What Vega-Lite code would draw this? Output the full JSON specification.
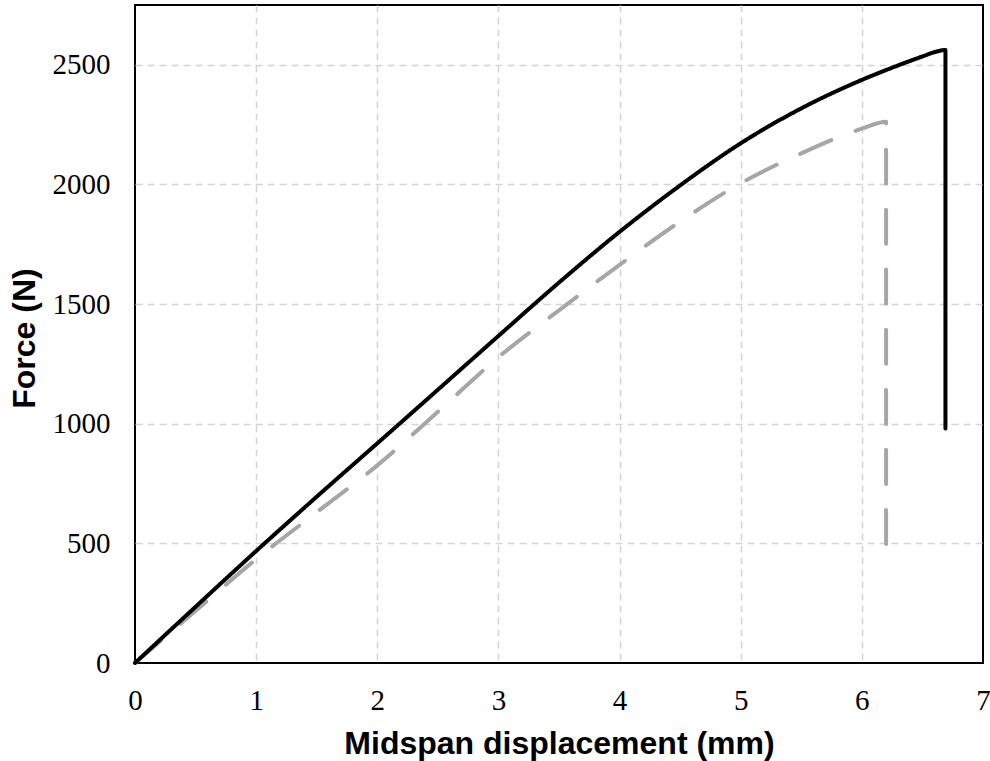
{
  "$schema": "https://vega.github.io/schema/vega-lite/v6.json",
  "width": 848,
  "height": 658,
  "autosize": "none",
  "padding": {"left": 135, "top": 5, "right": 7, "bottom": 98},
  "background": "white",
  "config": {
    "view": {"stroke": "#000000", "strokeWidth": 2},
    "axis": {
      "domain": false,
      "ticks": false,
      "grid": true,
      "gridDash": [7, 5],
      "gridWidth": 1.5,
      "labelFont": "Liberation Serif",
      "labelFontSize": 29,
      "labelColor": "#000000",
      "titleFont": "Liberation Sans",
      "titleFontSize": 32,
      "titleFontWeight": "bold",
      "titleColor": "#000000"
    }
  },
  "data": {
    "values": [
      {"s": "A", "i": 0, "x": 0, "y": 0},
      {"s": "A", "i": 1, "x": 0.5, "y": 218},
      {"s": "A", "i": 2, "x": 1, "y": 434},
      {"s": "A", "i": 3, "x": 1.5, "y": 630},
      {"s": "A", "i": 4, "x": 2, "y": 826},
      {"s": "A", "i": 5, "x": 2.5, "y": 1050},
      {"s": "A", "i": 6, "x": 3, "y": 1278},
      {"s": "A", "i": 7, "x": 3.5, "y": 1474},
      {"s": "A", "i": 8, "x": 4, "y": 1664},
      {"s": "A", "i": 9, "x": 4.5, "y": 1845},
      {"s": "A", "i": 10, "x": 5, "y": 2005},
      {"s": "A", "i": 11, "x": 5.5, "y": 2130},
      {"s": "A", "i": 12, "x": 6, "y": 2233},
      {"s": "A", "i": 13, "x": 6.2, "y": 2262},
      {"s": "A", "i": 14, "x": 6.2, "y": 482},
      {"s": "B", "i": 0, "x": 0, "y": 0},
      {"s": "B", "i": 1, "x": 0.5, "y": 235},
      {"s": "B", "i": 2, "x": 1, "y": 468},
      {"s": "B", "i": 3, "x": 1.5, "y": 695},
      {"s": "B", "i": 4, "x": 2, "y": 918},
      {"s": "B", "i": 5, "x": 2.5, "y": 1142},
      {"s": "B", "i": 6, "x": 3, "y": 1367},
      {"s": "B", "i": 7, "x": 3.5, "y": 1590},
      {"s": "B", "i": 8, "x": 4, "y": 1802},
      {"s": "B", "i": 9, "x": 4.5, "y": 1996},
      {"s": "B", "i": 10, "x": 5, "y": 2172},
      {"s": "B", "i": 11, "x": 5.5, "y": 2318},
      {"s": "B", "i": 12, "x": 6, "y": 2437},
      {"s": "B", "i": 13, "x": 6.25, "y": 2488},
      {"s": "B", "i": 14, "x": 6.5, "y": 2535},
      {"s": "B", "i": 15, "x": 6.6, "y": 2553},
      {"s": "B", "i": 16, "x": 6.69, "y": 2562},
      {"s": "B", "i": 17, "x": 6.69, "y": 980}
    ]
  },
  "mark": {"type": "line", "strokeWidth": 4, "strokeCap": "round", "strokeJoin": "round", "interpolate": "monotone"},
  "encoding": {
    "x": {
      "field": "x", "type": "quantitative",
      "scale": {"domain": [0, 7], "nice": false, "zero": false},
      "axis": {
        "values": [0, 1, 2, 3, 4, 5, 6, 7], "format": "d", "labelPadding": 23,
        "gridColor": {"condition": {"test": "datum.value === 0 || datum.value === 7", "value": "transparent"}, "value": "#d4d4d4"},
        "title": "Midspan displacement (mm)", "titleY": 90, "titleBaseline": "alphabetic", "labelFlush": false
      }
    },
    "y": {
      "field": "y", "type": "quantitative",
      "scale": {"domain": [0, 2750], "nice": false},
      "axis": {
        "values": [0, 500, 1000, 1500, 2000, 2500], "format": "d", "labelPadding": 25,
        "gridColor": {"condition": {"test": "datum.value === 0", "value": "transparent"}, "value": "#d4d4d4"},
        "title": "Force (N)", "titleX": -101, "titleY": 333, "titleBaseline": "alphabetic", "titleAngle": -90, "titleAlign": "center"
      }
    },
    "order": {"field": "i", "type": "quantitative"},
    "detail": {"field": "s"},
    "color": {"field": "s", "type": "nominal", "scale": {"domain": ["A", "B"], "range": ["#a6a6a6", "#000000"]}, "legend": null},
    "strokeDash": {"field": "s", "type": "nominal", "scale": {"domain": ["A", "B"], "range": [[34, 26], [1, 0]]}, "legend": null}
  }
}
